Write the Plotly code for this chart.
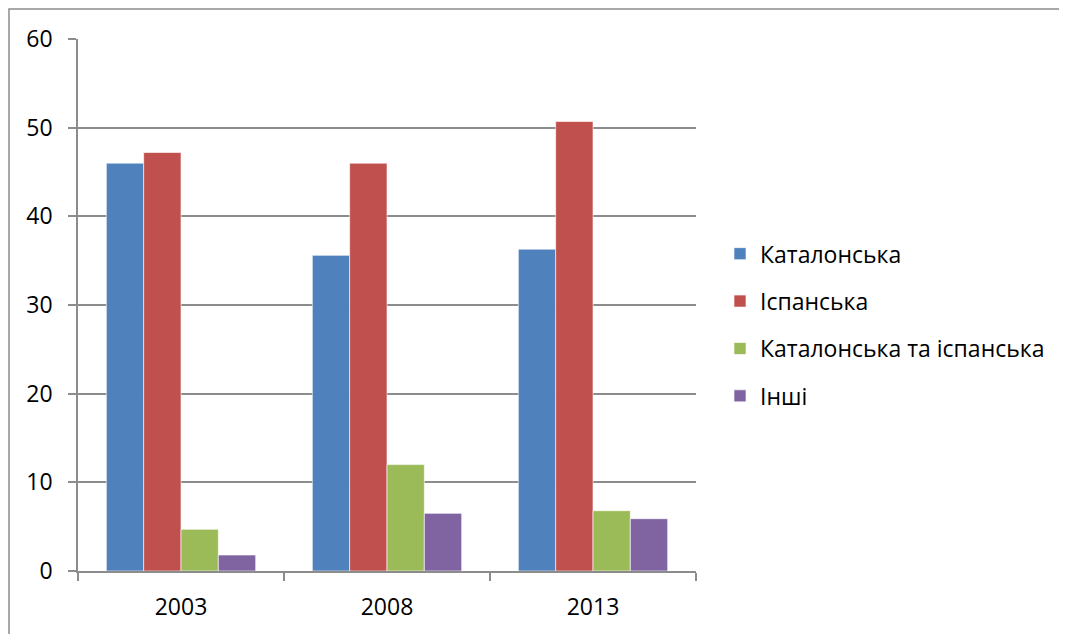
import plotly.graph_objects as go

# дані з діаграми
roky = ["2003", "2008", "2013"]
katalonska = [46.0, 35.6, 36.3]
ispanska = [47.2, 46.0, 50.7]
obydvi = [4.7, 12.0, 6.8]
inshi = [1.8, 6.5, 5.9]

nazvy = ["Каталонська", "Іспанська", "Каталонська та іспанська", "Інші"]
serii = [katalonska, ispanska, obydvi, inshi]
kolory = ["#4F81BD", "#C0504D", "#9BBB59", "#8064A2"]

# сторінка має відступ 8px, тому фігура трохи менша
off = 8
W, H = 1067 - off, 634 - off
ml, mr, mt, mb = 78 - off, 1067 - 696, 39 - off, 634 - 573
pw, ph = W - ml - mr, H - mt - mb
grey = "#8C8C8C"

fig = go.Figure()
for i, (nazva, vals) in enumerate(zip(nazvy, serii)):
    fig.add_bar(x=roky, y=vals, name=nazva, marker_color=kolory[i],
                marker_line=dict(color="rgba(255,255,255,0.6)", width=1),
                legendgroup=str(i))

fig.update_layout(
    width=W, height=H,
    margin=dict(l=ml, r=mr, t=mt, b=mb),
    plot_bgcolor="white", paper_bgcolor="white",
    font=dict(family="Open Sans", size=23, color="#000000"),
    barmode="group", bargap=0.275, bargroupgap=0,
    legend=dict(x=(720 - off - ml) / pw, y=0.462, xanchor="left", yanchor="middle",
                font=dict(size=23), tracegroupgap=14.5, itemwidth=30),
    showlegend=True,
)
fig.update_yaxes(range=[0, 60], dtick=10, showgrid=True, gridcolor=grey, gridwidth=1.5,
                 showline=True, linecolor=grey, linewidth=1.5,
                 ticks="outside", ticklen=8, tickcolor=grey, tickwidth=1.5,
                 ticklabelstandoff=11, zeroline=False)
fig.update_xaxes(showline=True, linecolor=grey, linewidth=1.5,
                 ticks="outside", tickson="boundaries", ticklen=8, tickcolor=grey, tickwidth=1.5,
                 ticklabelstandoff=15)

# рамка навколо діаграми
fig.add_shape(type="rect", xref="paper", yref="paper",
              x0=(1 - ml) / pw, x1=(1066 - ml) / pw,
              y0=(H - mb - 640) / ph, y1=(H - mb - 1) / ph,
              line=dict(color=grey, width=1.5), layer="below")

fig.write_html("out.html")
